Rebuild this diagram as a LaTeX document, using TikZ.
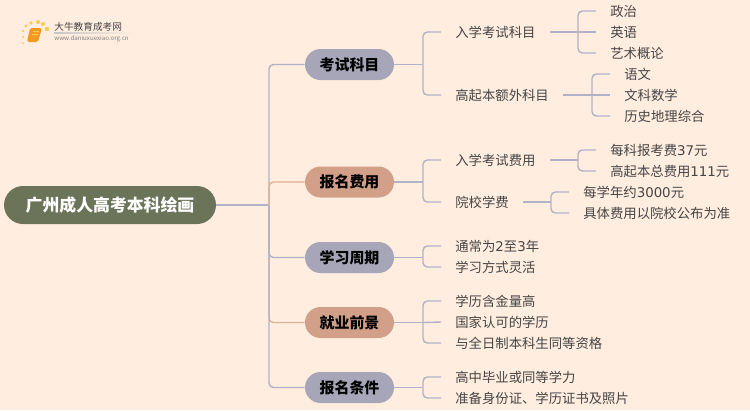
\documentclass[tikz,border=0pt]{standalone}
\usepackage{fontspec}
\setmainfont{Noto Sans CJK SC}
\newfontfamily\digitfont{DejaVu Sans}
\usetikzlibrary{shapes.misc}
\definecolor{bgcream}{HTML}{FFEDE0}
\definecolor{rootgreen}{HTML}{6B7358}
\definecolor{pillgrey}{HTML}{A6A6B8}
\definecolor{pillorange}{HTML}{D2A088}
\definecolor{linegrey}{HTML}{B0B2C8}
\definecolor{lineorange}{HTML}{E2B093}
\definecolor{textgrey}{HTML}{454545}
\definecolor{dotyellow}{HTML}{F9CB50}
\definecolor{bookorange}{HTML}{F49A20}
\begin{document}
\begin{tikzpicture}
[x=0.02cm,y=-0.02cm,
  rootdecorate/.style={shape=rounded rectangle,fill=rootgreen,text=white,font=\fontsize{9.6}{11}\bfseries,minimum width=4.24cm,minimum height=0.76cm,inner sep=0pt},
  pilldecorate/.style={shape=rounded rectangle,fill=pillgrey,text=black,font=\fontsize{8.5}{10}\bfseries,minimum width=1.78cm,minimum height=0.62cm,inner sep=0pt},
  leafdecorate/.style={anchor=west,text=textgrey,font=\fontsize{7.6}{9}\selectfont,inner xsep=0.28cm,inner ysep=0pt},
  linedecorate/.style={-,line width=0.8pt,color=linegrey,rounded corners=2.5pt},
  orangedecorate/.style={linedecorate,color=lineorange},
  elbow/.style={to path={|- (\tikztotarget)}}]
\useasboundingbox[fill=bgcream] (0,0) rectangle (750,410);
% logo
\fill[dotyellow] (23,43) circle (1);
\fill[dotyellow] (23,37) circle (1.2);
\fill[dotyellow] (23,31) circle (1.4);
\fill[dotyellow] (26,26) circle (1.6);
\fill[dotyellow] (31,23) circle (1.9);
\fill[dotyellow] (38,22) circle (2);
\fill[dotyellow] (43,24) circle (2);
\fill[dotyellow] (47,29) circle (2.2);
\fill[bookorange,rounded corners=1pt] (30,28) -- (42,28) -- (38,42) -- (27,42) -- cycle;
\draw[dotyellow,line width=0.4pt] (33,31) -- (39,31) (32,34) -- (38,34);
\shade[left color=gray!45,right color=bgcream] (54,32.7) rectangle (133,33.3);
\node (logotitle) at (54,27) [anchor=west,inner sep=0pt,text=textgrey,font=\fontsize{5.5}{6}\selectfont] {大牛教育成考网};
\node (logourl) at (54,39) [anchor=west,inner sep=0pt,text=gray,font=\fontsize{3.5}{4}\selectfont] {www.daniuxuexiao.org.cn};
% root and branches
\node (root) at (110,205) [rootdecorate] {广州成人高考本科绘画};
\node (exam) at (349.5,64.5) [pilldecorate] {考试科目};
\node (fee) at (349.5,182) [pilldecorate,fill=pillorange] {报名费用};
\node (period) at (349.5,257.5) [pilldecorate] {学习周期};
\node (career) at (349.5,322.5) [pilldecorate,fill=pillorange] {就业前景};
\node (apply) at (349.5,387.5) [pilldecorate] {报名条件};
% second level
\node (examA) at (441,32) [leafdecorate] {入学考试科目};
\node (examB) at (441,95) [leafdecorate] {高起本额外科目};
\node (feeA) at (441,160) [leafdecorate] {入学考试费用};
\node (feeB) at (441,202) [leafdecorate] {院校学费};
\node (periodA) at (441,246) [leafdecorate] {通常为{\digitfont 2}至{\digitfont 3}年};
\node (periodB) at (441,267) [leafdecorate] {学习方式灵活};
\node (careerA) at (441,301) [leafdecorate] {学历含金量高};
\node (careerB) at (441,322) [leafdecorate] {国家认可的学历};
\node (careerC) at (441,343) [leafdecorate] {与全日制本科生同等资格};
\node (applyA) at (441,377) [leafdecorate] {高中毕业或同等学力};
\node (applyB) at (441,398) [leafdecorate] {准备身份证、学历证书及照片};
% third level
\node (politics) at (596,11) [leafdecorate] {政治};
\node (english) at (596,32) [leafdecorate] {英语};
\node (art) at (596,53) [leafdecorate] {艺术概论};
\node (chinese) at (610,74) [leafdecorate] {语文};
\node (math) at (610,95) [leafdecorate] {文科数学};
\node (history) at (610,116) [leafdecorate] {历史地理综合};
\node (feeAa) at (596,150) [leafdecorate] {每科报考费{\digitfont 37}元};
\node (feeAb) at (596,171) [leafdecorate] {高起本总费用{\digitfont 111}元};
\node (feeBa) at (569,192) [leafdecorate] {每学年约{\digitfont 3000}元};
\node (feeBb) at (569,213) [leafdecorate] {具体费用以院校公布为准};
% junctions
\coordinate (jroot) at (269,205);
\coordinate (jexam) at (423,64.5);
\coordinate (jfee) at (423,182);
\coordinate (jperiod) at (423,257.5);
\coordinate (jcareer) at (423,322.5);
\coordinate (japply) at (423,387.5);
\coordinate (jexamA) at (578,32);
\coordinate (jexamB) at (592,95);
\coordinate (jfeeA) at (578,160);
\coordinate (jfeeB) at (551,202);
% edges or lines
\path
(jroot) edge[orangedecorate,elbow] (career.west)
(root.east) edge[linedecorate] (jroot)
(jroot) edge[linedecorate,elbow] (exam.west)
(jroot) edge[linedecorate,elbow] (period.west)
(jroot) edge[linedecorate,elbow] (apply.west)
(jroot) edge[orangedecorate,elbow] (fee.west)
(exam.east) edge[linedecorate] (jexam)
(jexam) edge[linedecorate,elbow] (examA.west)
(jexam) edge[linedecorate,elbow] (examB.west)
(fee.east) edge[linedecorate] (jfee)
(jfee) edge[linedecorate,elbow] (feeA.west)
(jfee) edge[linedecorate,elbow] (feeB.west)
(period.east) edge[linedecorate] (jperiod)
(jperiod) edge[linedecorate,elbow] (periodA.west)
(jperiod) edge[linedecorate,elbow] (periodB.west)
(career.east) edge[linedecorate] (jcareer)
(jcareer) edge[linedecorate,elbow] (careerA.west)
(jcareer) edge[linedecorate] (careerB.west)
(jcareer) edge[linedecorate,elbow] (careerC.west)
(apply.east) edge[linedecorate] (japply)
(japply) edge[linedecorate,elbow] (applyA.west)
(japply) edge[linedecorate,elbow] (applyB.west)
(examA.east) edge[linedecorate] (jexamA)
(jexamA) edge[linedecorate,elbow] (politics.west)
(jexamA) edge[linedecorate] (english.west)
(jexamA) edge[linedecorate,elbow] (art.west)
(examB.east) edge[linedecorate] (jexamB)
(jexamB) edge[linedecorate,elbow] (chinese.west)
(jexamB) edge[linedecorate] (math.west)
(jexamB) edge[linedecorate,elbow] (history.west)
(feeA.east) edge[linedecorate] (jfeeA)
(jfeeA) edge[linedecorate,elbow] (feeAa.west)
(jfeeA) edge[linedecorate,elbow] (feeAb.west)
(feeB.east) edge[linedecorate] (jfeeB)
(jfeeB) edge[linedecorate,elbow] (feeBa.west)
(jfeeB) edge[linedecorate,elbow] (feeBb.west);
\end{tikzpicture}
\end{document}
